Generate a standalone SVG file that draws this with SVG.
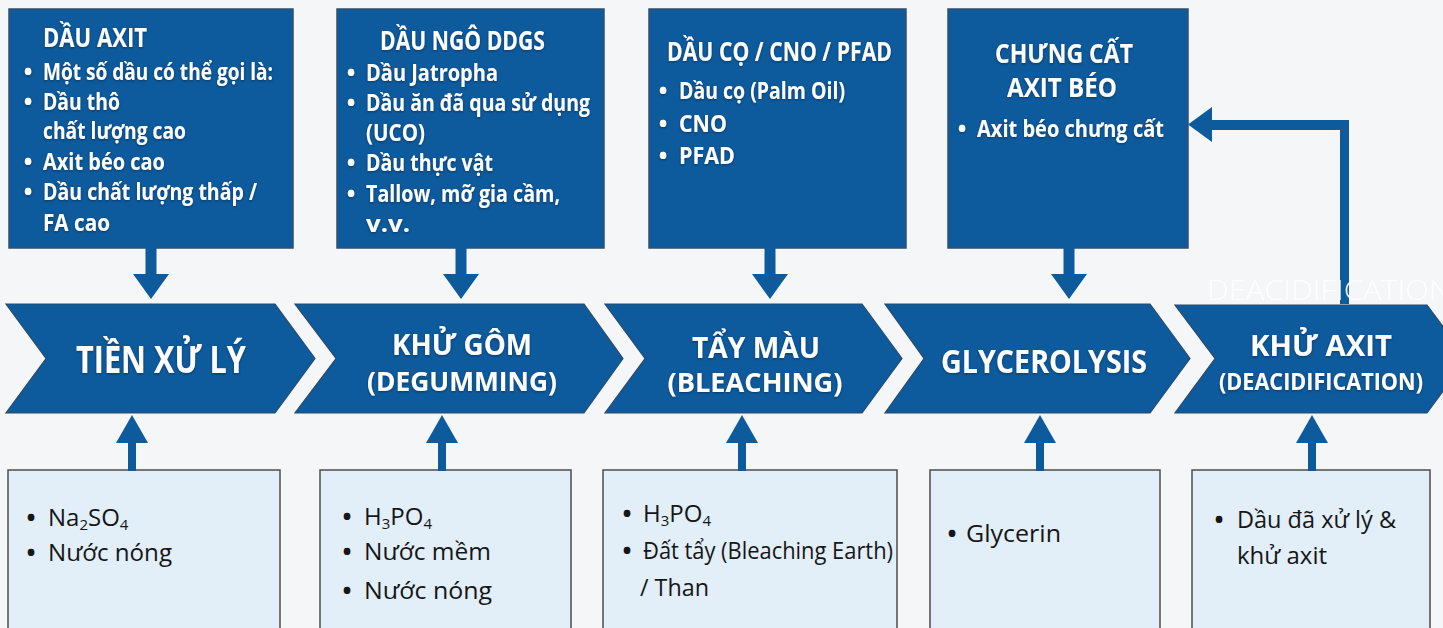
<svg xmlns="http://www.w3.org/2000/svg" width="1443" height="628" viewBox="0 0 1443 628">
  <defs>
    <style>
      .bg { fill: #f4f6f8; }
      .src { fill: #0d5a9c; stroke: #31506e; stroke-width: 1.5; }
      .step { fill: #0d5a9c; stroke: #284a6c; stroke-width: 1.2; }
      .inp { fill: #e2eef8; stroke: #4d4d4d; stroke-width: 1.5; }
      .arrow { fill: #0d5a9c; }
      .hd { font-family: "Open Sans", "Noto Sans", "DejaVu Sans", sans-serif; font-weight: 700; fill: #ffffff; font-size: 27px; }
      .bl { font-family: "Open Sans", "Noto Sans", "DejaVu Sans", sans-serif; font-weight: 700; fill: #ffffff; font-size: 23px; }
      .st { font-family: "Open Sans", "Noto Sans", "DejaVu Sans", sans-serif; font-weight: 700; fill: #ffffff; text-anchor: middle; }
      .in { font-family: "Open Sans", "Noto Sans", "DejaVu Sans", sans-serif; font-weight: 400; fill: #161616; font-size: 24px; }
      .dot { text-anchor: middle; font-weight: 700; }
      .ghost { font-family: "Open Sans", "Liberation Sans", sans-serif; font-weight: 300; fill: #ffffff; font-size: 27px; }
    </style>
    <filter id="glow" x="-5%" y="-20%" width="110%" height="140%">
      <feDropShadow dx="0" dy="1" stdDeviation="1" flood-color="#00223f" flood-opacity="0.55"/>
    </filter>
  </defs>

  <rect class="bg" x="0" y="0" width="1443" height="628"/>

  <!-- feedstock boxes -->
  <g id="src-dau-axit">
    <rect class="src" x="9" y="9" width="284" height="239"/>
    <g filter="url(#glow)">
      <text class="hd" x="43" y="47" textLength="104" lengthAdjust="spacingAndGlyphs">DẦU AXIT</text>
      <text class="bl dot" x="28" y="80">•</text>
      <text class="bl" x="43" y="80" textLength="230" lengthAdjust="spacingAndGlyphs">Một số dầu có thể gọi là:</text>
      <text class="bl dot" x="28" y="110">•</text>
      <text class="bl" x="43" y="110" textLength="77" lengthAdjust="spacingAndGlyphs">Dầu thô</text>
      <text class="bl" x="43" y="139" textLength="143" lengthAdjust="spacingAndGlyphs">chất lượng cao</text>
      <text class="bl dot" x="28" y="170">•</text>
      <text class="bl" x="43" y="170" textLength="122" lengthAdjust="spacingAndGlyphs">Axit béo cao</text>
      <text class="bl dot" x="28" y="200">•</text>
      <text class="bl" x="43" y="200" textLength="214" lengthAdjust="spacingAndGlyphs">Dầu chất lượng thấp /</text>
      <text class="bl" x="43" y="231" textLength="67" lengthAdjust="spacingAndGlyphs">FA cao</text>
    </g>
  </g>

  <g id="src-dau-ngo">
    <rect class="src" x="337" y="9" width="267" height="239"/>
    <g filter="url(#glow)">
      <text class="hd" x="380" y="50" textLength="165" lengthAdjust="spacingAndGlyphs">DẦU NGÔ DDGS</text>
      <text class="bl dot" x="351" y="81">•</text>
      <text class="bl" x="366" y="81" textLength="132" lengthAdjust="spacingAndGlyphs">Dầu Jatropha</text>
      <text class="bl dot" x="351" y="111">•</text>
      <text class="bl" x="366" y="111" textLength="224" lengthAdjust="spacingAndGlyphs">Dầu ăn đã qua sử dụng</text>
      <text class="bl" x="366" y="141" textLength="59" lengthAdjust="spacingAndGlyphs">(UCO)</text>
      <text class="bl dot" x="351" y="171">•</text>
      <text class="bl" x="366" y="171" textLength="127" lengthAdjust="spacingAndGlyphs">Dầu thực vật</text>
      <text class="bl dot" x="351" y="202">•</text>
      <text class="bl" x="366" y="202" textLength="194" lengthAdjust="spacingAndGlyphs">Tallow, mỡ gia cầm,</text>
      <text class="bl" x="366" y="232" textLength="44" lengthAdjust="spacingAndGlyphs">v.v.</text>
    </g>
  </g>

  <g id="src-dau-co">
    <rect class="src" x="649" y="9" width="257" height="239"/>
    <g filter="url(#glow)">
      <text class="hd" x="667" y="61" textLength="225" lengthAdjust="spacingAndGlyphs">DẦU CỌ / CNO / PFAD</text>
      <text class="bl dot" x="663" y="99">•</text>
      <text class="bl" x="679" y="99" textLength="166" lengthAdjust="spacingAndGlyphs">Dầu cọ (Palm Oil)</text>
      <text class="bl dot" x="663" y="132">•</text>
      <text class="bl" x="679" y="132" textLength="48" lengthAdjust="spacingAndGlyphs">CNO</text>
      <text class="bl dot" x="663" y="164">•</text>
      <text class="bl" x="679" y="164" textLength="56" lengthAdjust="spacingAndGlyphs">PFAD</text>
    </g>
  </g>

  <g id="src-chung-cat">
    <rect class="src" x="948" y="9" width="240" height="239"/>
    <g filter="url(#glow)">
      <text class="hd" x="995" y="63" textLength="138" lengthAdjust="spacingAndGlyphs">CHƯNG CẤT</text>
      <text class="hd" x="1007" y="97" textLength="110" lengthAdjust="spacingAndGlyphs">AXIT BÉO</text>
      <text class="bl dot" x="962" y="137">•</text>
      <text class="bl" x="977" y="137" textLength="187" lengthAdjust="spacingAndGlyphs">Axit béo chưng cất</text>
    </g>
  </g>

  <!-- process steps -->
  <g id="step-tien-xu-ly">
    <polygon class="step" points="6,304 275,304 315,358.5 275,413 6,413 46,358.5"/>
    <text class="st" x="161" y="373" font-size="38" textLength="170" lengthAdjust="spacingAndGlyphs" filter="url(#glow)">TIỀN XỬ LÝ</text>
  </g>

  <g id="step-khu-gom">
    <polygon class="step" points="295,304 584,304 623,358.5 584,413 295,413 336,358.5"/>
    <g filter="url(#glow)">
      <text class="st" x="462" y="355" font-size="28" textLength="140" lengthAdjust="spacingAndGlyphs">KHỬ GÔM</text>
      <text class="st" x="462" y="391" font-size="27" textLength="190" lengthAdjust="spacingAndGlyphs">(DEGUMMING)</text>
    </g>
  </g>

  <g id="step-tay-mau">
    <polygon class="step" points="605,304 862,304 902,358.5 862,413 605,413 645,358.5"/>
    <g filter="url(#glow)">
      <text class="st" x="756" y="358" font-size="29" textLength="128" lengthAdjust="spacingAndGlyphs">TẨY MÀU</text>
      <text class="st" x="755" y="392" font-size="27" textLength="175" lengthAdjust="spacingAndGlyphs">(BLEACHING)</text>
    </g>
  </g>

  <g id="step-glycerolysis">
    <polygon class="step" points="885,304 1150,304 1190,358.5 1150,413 885,413 924,358.5"/>
    <text class="st" x="1044" y="373" font-size="32" textLength="206" lengthAdjust="spacingAndGlyphs" filter="url(#glow)">GLYCEROLYSIS</text>
  </g>

  <g id="step-khu-axit">
    <polygon class="step" points="1175,305 1427,305 1467,358.5 1427,413 1175,413 1215,358.5"/>
    <g filter="url(#glow)">
      <text class="st" x="1321" y="356" font-size="28" textLength="142" lengthAdjust="spacingAndGlyphs">KHỬ AXIT</text>
      <text class="st" x="1321" y="390" font-size="23" textLength="204" lengthAdjust="spacingAndGlyphs">(DEACIDIFICATION)</text>
    </g>
  </g>

  <!-- chemical inputs -->
  <g id="in-tien-xu-ly">
    <rect class="inp" x="8" y="470" width="272" height="170"/>
    <text class="in dot" x="31" y="526">•</text>
    <text class="in" x="48" y="526">Na<tspan font-size="15" dy="4">2</tspan><tspan dy="-4">SO</tspan><tspan font-size="15" dy="4">4</tspan></text>
    <text class="in dot" x="31" y="561">•</text>
    <text class="in" x="48" y="561" textLength="124" lengthAdjust="spacingAndGlyphs">Nước nóng</text>
  </g>

  <g id="in-khu-gom">
    <rect class="inp" x="320" y="470" width="251" height="170"/>
    <text class="in dot" x="347" y="525">•</text>
    <text class="in" x="364" y="525">H<tspan font-size="15" dy="4">3</tspan><tspan dy="-4">PO</tspan><tspan font-size="15" dy="4">4</tspan></text>
    <text class="in dot" x="347" y="560">•</text>
    <text class="in" x="364" y="560" textLength="127" lengthAdjust="spacingAndGlyphs">Nước mềm</text>
    <text class="in dot" x="347" y="599">•</text>
    <text class="in" x="364" y="599" textLength="128" lengthAdjust="spacingAndGlyphs">Nước nóng</text>
  </g>

  <g id="in-tay-mau">
    <rect class="inp" x="603" y="470" width="294" height="170"/>
    <text class="in dot" x="627" y="522">•</text>
    <text class="in" x="643" y="522">H<tspan font-size="15" dy="4">3</tspan><tspan dy="-4">PO</tspan><tspan font-size="15" dy="4">4</tspan></text>
    <text class="in dot" x="627" y="559">•</text>
    <text class="in" x="643" y="559" textLength="250" lengthAdjust="spacingAndGlyphs">Đất tẩy (Bleaching Earth)</text>
    <text class="in" x="640" y="596" textLength="69" lengthAdjust="spacingAndGlyphs">/ Than</text>
  </g>

  <g id="in-glycerolysis">
    <rect class="inp" x="930" y="470" width="230" height="170"/>
    <text class="in dot" x="952" y="542">•</text>
    <text class="in" x="966" y="542" textLength="95" lengthAdjust="spacingAndGlyphs">Glycerin</text>
  </g>

  <g id="in-khu-axit">
    <rect class="inp" x="1192" y="470" width="238" height="170"/>
    <text class="in dot" x="1219" y="528">•</text>
    <text class="in" x="1237" y="528" textLength="159" lengthAdjust="spacingAndGlyphs">Dầu đã xử lý &amp;</text>
    <text class="in" x="1237" y="564" textLength="90" lengthAdjust="spacingAndGlyphs">khử axit</text>
  </g>

  <!-- connectors -->
  <g id="connectors">
    <!-- feedstock into each step -->
    <rect class="arrow" x="145.5" y="248" width="11" height="27"/>
    <polygon class="arrow" points="133,274 169,274 151,299"/>
    <rect class="arrow" x="455.5" y="248" width="11" height="27"/>
    <polygon class="arrow" points="443,274 479,274 461,299"/>
    <rect class="arrow" x="764.5" y="248" width="11" height="27"/>
    <polygon class="arrow" points="752,274 788,274 770,299"/>
    <rect class="arrow" x="1063.5" y="248" width="11" height="27"/>
    <polygon class="arrow" points="1051,274 1087,274 1069,299"/>

    <!-- chemicals up into each step -->
    <rect class="arrow" x="128" y="442" width="8" height="29"/>
    <polygon class="arrow" points="116,443 148,443 132,415"/>
    <rect class="arrow" x="438" y="442" width="8" height="29"/>
    <polygon class="arrow" points="426,443 458,443 442,415"/>
    <rect class="arrow" x="738" y="442" width="8" height="29"/>
    <polygon class="arrow" points="726,443 758,443 742,415"/>
    <rect class="arrow" x="1036" y="442" width="8" height="29"/>
    <polygon class="arrow" points="1024,443 1056,443 1040,415"/>
    <rect class="arrow" x="1308" y="442" width="8" height="29"/>
    <polygon class="arrow" points="1296,443 1328,443 1312,415"/>

    <!-- fatty acid return from deacidification -->
    <path class="arrow" d="M1340,304 L1340,130 L1211,130 L1211,120 L1349,120 L1349,304 Z"/>
    <polygon class="arrow" points="1212,107 1212,142 1188,124.5"/>
  </g>

  <text class="ghost" x="1207" y="300" textLength="244" lengthAdjust="spacingAndGlyphs" opacity="0.95">DEACIDIFICATION</text>
</svg>
